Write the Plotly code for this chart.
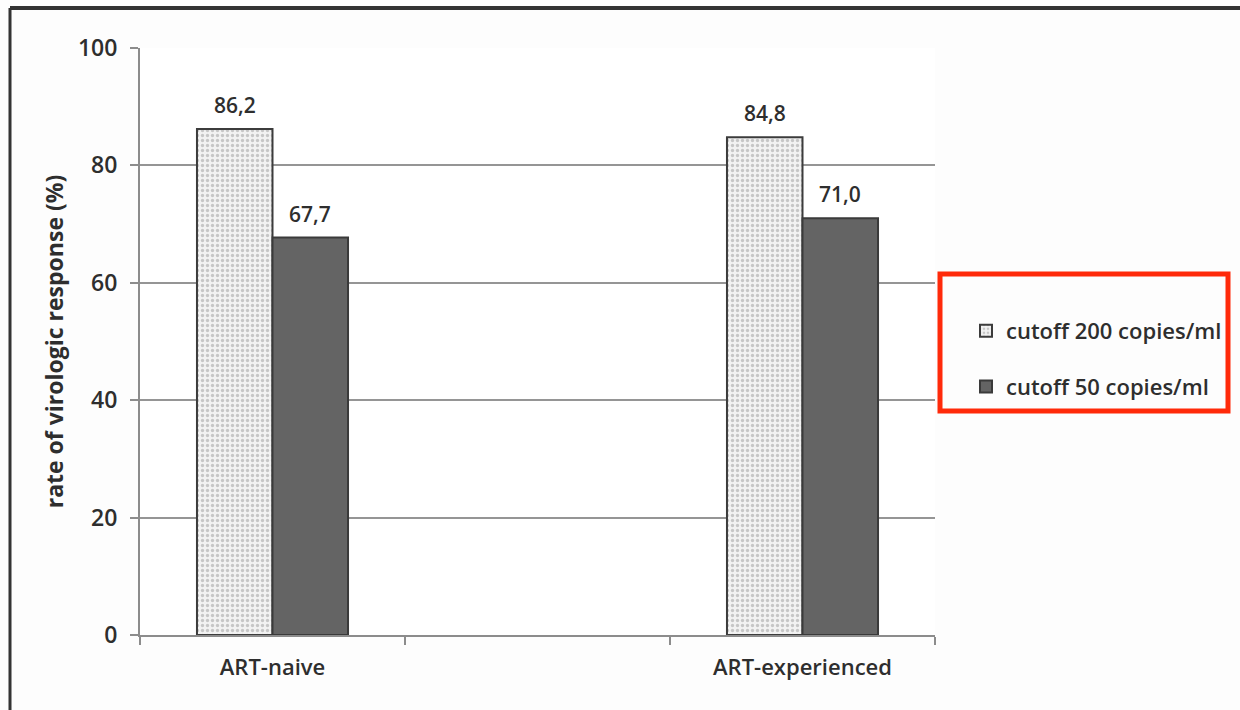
import plotly.graph_objects as go

# Virologic response by treatment history and viral-load cutoff
categories = ["ART-naive", "ART-experienced"]
axis_order = ["ART-naive", " ", "ART-experienced"]
series_names = ["cutoff 200 copies/ml", "cutoff 50 copies/ml"]
cutoff_200 = [86.2, 84.8]
cutoff_50 = [67.7, 71.0]
y_ticks = [0, 20, 40, 60, 80, 100]

W, H = 1240, 710
L, R, T, B = 140, 305, 48, 75
pw, ph = W - L - R, H - T - B
BARGAP = 0.43


def px(x):
    return (x - L) / pw


def py(y):
    return (H - B - y) / ph


FAMILY = "Open Sans, Liberation Sans, sans-serif"
TXT = "#2e2e2e"

fig = go.Figure()
fig.add_trace(go.Bar(
    name=series_names[0], x=categories, y=cutoff_200,
    legendgroup="a",
    marker=dict(color="#efefef",
                line=dict(color="#3c3c3c", width=2),
                pattern=dict(shape=".", fgcolor="#9a9a9a", bgcolor="#f2f2f2",
                             size=5, solidity=0.35)),
))
fig.add_trace(go.Bar(
    name=series_names[1], x=categories, y=cutoff_50,
    legendgroup="b",
    marker=dict(color="#646464", line=dict(color="#3a3a3a", width=2)),
))

# value labels above each bar (decimal comma)
bar_px = pw / len(axis_order) * (1 - BARGAP) / 2
for shift, values in ((-bar_px / 2, cutoff_200), (bar_px / 2, cutoff_50)):
    for cat, v in zip(categories, values):
        fig.add_annotation(x=cat, y=v, xref="x", yref="y",
                           text=f"{v:.1f}".replace(".", ","),
                           showarrow=False, xshift=shift, yshift=8,
                           yanchor="bottom",
                           font=dict(family=FAMILY, size=21, color=TXT, weight=600))

fig.update_layout(
    width=W, height=H,
    margin=dict(l=L, r=R, t=T, b=B),
    paper_bgcolor="#fdfdfd", plot_bgcolor="#ffffff",
    separators=",.",
    barmode="group", bargap=BARGAP, bargroupgap=0,
    font=dict(family=FAMILY, color=TXT),
    showlegend=True,
    legend=dict(x=px(966), y=py(310), xanchor="left", yanchor="top",
                font=dict(size=22, color=TXT, weight=600),
                tracegroupgap=24, itemwidth=30,
                bgcolor="rgba(0,0,0,0)"),
    xaxis=dict(type="category", categoryorder="array", categoryarray=axis_order,
               range=[-0.5, 2.5], tickson="boundaries",
               showline=True, linecolor="#8c8c8c", linewidth=2,
               ticks="outside", ticklen=8, tickcolor="#8c8c8c", tickwidth=2,
               ticklabelstandoff=12,
               tickfont=dict(size=22, color=TXT, weight=600), showgrid=False),
    yaxis=dict(range=[0, 100], tickvals=y_ticks,
               showline=True, linecolor="#8c8c8c", linewidth=2,
               ticks="outside", ticklen=8, tickcolor="#8c8c8c", tickwidth=2,
               ticklabelstandoff=8,
               gridcolor="#959595", gridwidth=2,
               tickfont=dict(size=23, color=TXT, weight=600),
               zeroline=False,
               title=dict(text="rate of virologic response (%)",
                          font=dict(size=23, color=TXT, weight=700), standoff=8)),
)

# outer frame (top and left edges)
fig.add_shape(type="line", xref="paper", yref="paper",
              x0=px(10), x1=px(1240), y0=py(8), y1=py(8),
              line=dict(color="#333333", width=4))
fig.add_shape(type="line", xref="paper", yref="paper",
              x0=px(10), x1=px(10), y0=py(8), y1=py(710),
              line=dict(color="#333333", width=3))

# highlight box around the legend
fig.add_shape(type="rect", xref="paper", yref="paper",
              x0=px(940), x1=px(1228), y0=py(411), y1=py(274),
              line=dict(color="#ff2a0a", width=5), fillcolor="rgba(0,0,0,0)")

fig.write_html("out.html")
